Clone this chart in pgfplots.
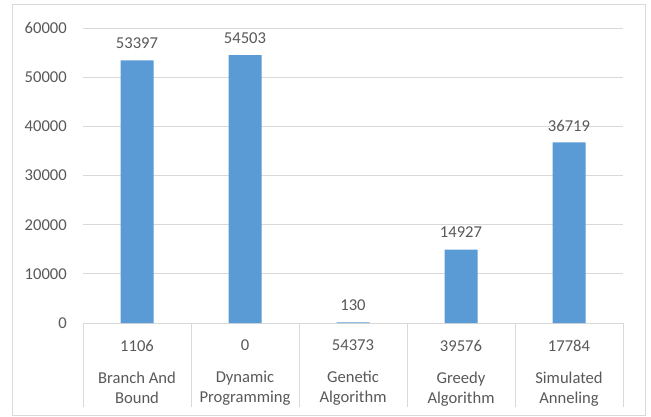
\documentclass[border=0pt]{standalone}
\usepackage{pgfplots}
\pgfplotsset{compat=1.18}
\usepackage{pgfplotstable}
\usepackage{fontspec}
\setmainfont{Carlito}
\definecolor{barblue}{HTML}{5B9BD5}
\definecolor{gridgray}{HTML}{D9D9D9}
\definecolor{txtgray}{HTML}{595959}

% bar heights per algorithm
\pgfplotstableread{
x y
0 53397
1 54503
2 130
3 14927
4 36719
}\runtime

\begin{document}
\begin{tikzpicture}[x=1bp,y=1bp]
% chart area and its frame
\fill[white] (0,0) rectangle (651,416);
\draw[gridgray, line width=1bp] (12,1) rectangle (645,411);
\begin{axis}[
  at={(83bp,93bp)}, anchor=south west,
  scale only axis, width=540bp, height=295bp,
  xmin=-0.5, xmax=4.5, ymin=0, ymax=60000,
  ytick={0,10000,...,60000},
  scaled y ticks=false,
  xtick={0,...,4},
  xticklabels={
    1106\\[12bp]Branch And\\Bound,
    0\\[12bp]Dynamic\\Programming,
    54373\\[12bp]Genetic\\Algorithm,
    39576\\[12bp]Greedy\\Algorithm,
    17784\\[12bp]Simulated\\Anneling},
  ymajorgrids, grid style={gridgray, line width=1bp},
  axis line style={draw=none},
  major tick length=0pt,
  ybar, bar width=33bp,
  nodes near coords, point meta=explicit symbolic,
  every node near coord/.append style={anchor=center, yshift=17bp,
    inner sep=0pt, text=txtgray, font=\fontsize{16.6bp}{20bp}\selectfont},
  tick label style={text=txtgray, font=\fontsize{16.6bp}{20bp}\selectfont},
  yticklabel style={anchor=east, inner sep=0pt, xshift=-16bp},
  xticklabel style={anchor=north, inner sep=0pt, yshift=-17bp, align=center},
  /pgf/number format/.cd, 1000 sep={}, assume math mode=true,
  /pgfplots/.cd, clip=false,
]
\addplot[fill=barblue, draw=none] table[x=x, y=y, meta=y] \runtime;
\end{axis}
% category table separators
\foreach \k in {0,...,5} {
  \draw[gridgray, line width=1bp] (83+108*\k,93) -- (83+108*\k,9);
}
\end{tikzpicture}
\end{document}
